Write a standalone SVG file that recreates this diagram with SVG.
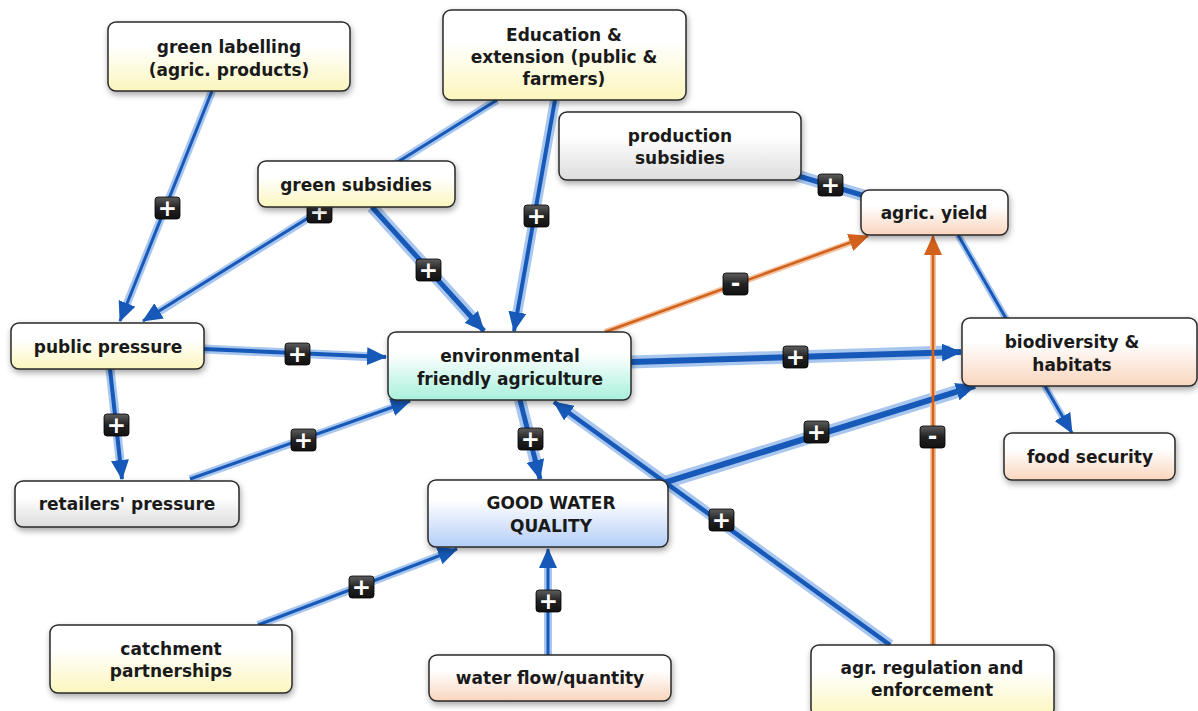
<svg xmlns="http://www.w3.org/2000/svg" width="1198" height="711" viewBox="0 0 1198 711">
<defs>
<linearGradient id="gY" x1="0" y1="0" x2="0" y2="1"><stop offset="0.35" stop-color="#ffffff"/><stop offset="1" stop-color="#fbf6bd"/></linearGradient>
<linearGradient id="gP" x1="0" y1="0" x2="0" y2="1"><stop offset="0.35" stop-color="#ffffff"/><stop offset="1" stop-color="#f9d5bd"/></linearGradient>
<linearGradient id="gG" x1="0" y1="0" x2="0" y2="1"><stop offset="0.35" stop-color="#ffffff"/><stop offset="1" stop-color="#dcdcdc"/></linearGradient>
<linearGradient id="gM" x1="0" y1="0" x2="0" y2="1"><stop offset="0.3" stop-color="#ffffff"/><stop offset="1" stop-color="#a9f0dc"/></linearGradient>
<linearGradient id="gB" x1="0" y1="0" x2="0" y2="1"><stop offset="0.3" stop-color="#ffffff"/><stop offset="1" stop-color="#b3cdf7"/></linearGradient>
<linearGradient id="gK" x1="0" y1="0" x2="0" y2="1"><stop offset="0" stop-color="#5e5e5e"/><stop offset="0.5" stop-color="#222"/><stop offset="1" stop-color="#111"/></linearGradient>
<filter id="sh" x="-10%" y="-20%" width="130%" height="160%"><feDropShadow dx="1" dy="3" stdDeviation="3" flood-color="#000" flood-opacity="0.35"/></filter>
<marker id="ab" markerUnits="userSpaceOnUse" markerWidth="20" markerHeight="18" viewBox="0 0 20 18" refX="19" refY="9" orient="auto"><path d="M0,0 L20,9 L0,18 Z" fill="#1659b8"/></marker>
<marker id="ao" markerUnits="userSpaceOnUse" markerWidth="20" markerHeight="18" viewBox="0 0 20 18" refX="19" refY="9" orient="auto"><path d="M0,0 L20,9 L0,18 Z" fill="#d2611c"/></marker>
</defs>
<style>
.n rect{stroke:#2a2a2a;stroke-width:1.5;filter:url(#sh)}
.n text{font-family:"DejaVu Sans",Verdana,sans-serif;font-weight:bold;font-size:17px;fill:#1a1a1a;text-anchor:middle}
.h{stroke:#92b8ea;fill:none;stroke-linecap:butt;opacity:0.8}
.b{stroke:#1659b8;fill:none;marker-end:url(#ab)}
.ho{stroke:#f2c3a0;fill:none;stroke-width:6}
.o{stroke:#d2611c;fill:none;stroke-width:2.5;marker-end:url(#ao)}
.bd rect{fill:url(#gK);stroke:#000;stroke-width:0.8}
.bd text{font-family:"DejaVu Sans",sans-serif;font-weight:bold;font-size:23px;fill:#fff;text-anchor:middle}
</style>
<g id="connectors">
<!-- halos -->
<line class="h" x1="212" y1="91" x2="124" y2="311" stroke-width="8"/>
<line class="h" x1="497" y1="100" x2="152" y2="316" stroke-width="8"/>
<line class="h" x1="372" y1="207" x2="477" y2="323" stroke-width="12"/>
<line class="h" x1="555" y1="100" x2="516" y2="320" stroke-width="10"/>
<line class="h" x1="785" y1="172" x2="872" y2="198" stroke-width="12"/>
<line class="h" x1="204" y1="349" x2="376" y2="357" stroke-width="9"/>
<line class="h" x1="110" y1="369" x2="121" y2="469" stroke-width="9"/>
<line class="h" x1="190" y1="479" x2="400" y2="405" stroke-width="8"/>
<line class="h" x1="631" y1="362" x2="950" y2="352" stroke-width="13"/>
<line class="h" x1="958" y1="235" x2="1066" y2="423" stroke-width="7"/>
<line class="h" x1="520" y1="400" x2="537" y2="468" stroke-width="12"/>
<line class="h" x1="660" y1="484" x2="965" y2="389" stroke-width="13"/>
<line class="h" x1="890" y1="645" x2="563" y2="408" stroke-width="11"/>
<line class="h" x1="258" y1="625" x2="447" y2="553" stroke-width="8"/>
<line class="h" x1="548" y1="655" x2="548" y2="560" stroke-width="8"/>
<line class="ho" x1="605" y1="332" x2="858" y2="240"/>
<line class="ho" x1="933" y1="645" x2="933" y2="246"/>
<!-- lines -->
<line class="b" x1="212" y1="91" x2="120" y2="321" stroke-width="3"/>
<line class="b" x1="497" y1="100" x2="143" y2="321" stroke-width="3"/>
<line class="b" x1="372" y1="207" x2="484" y2="331" stroke-width="5"/>
<line class="b" x1="555" y1="100" x2="514" y2="331" stroke-width="4"/>
<line class="b" x1="785" y1="172" x2="895" y2="205" stroke-width="5"/>
<line class="b" x1="204" y1="349" x2="386" y2="357" stroke-width="4"/>
<line class="b" x1="110" y1="369" x2="122" y2="479" stroke-width="4"/>
<line class="b" x1="190" y1="479" x2="410" y2="401" stroke-width="3"/>
<line class="b" x1="631" y1="362" x2="961" y2="352" stroke-width="6"/>
<line class="b" x1="958" y1="235" x2="1072" y2="433" stroke-width="3"/>
<line class="b" x1="520" y1="400" x2="540" y2="479" stroke-width="5"/>
<line class="b" x1="660" y1="484" x2="975" y2="386" stroke-width="6"/>
<line class="b" x1="890" y1="645" x2="554" y2="402" stroke-width="4.5"/>
<line class="b" x1="258" y1="625" x2="457" y2="549" stroke-width="3"/>
<line class="b" x1="548" y1="655" x2="548" y2="549" stroke-width="3"/>
<line class="o" x1="605" y1="332" x2="868" y2="236"/>
<line class="o" x1="933" y1="645" x2="933" y2="236"/>
<!-- badges -->
<g class="bd">
<rect x="155" y="197" width="25" height="22" rx="3"/><text x="167.5" y="216">+</text>
<rect x="307" y="201" width="25" height="22" rx="3"/><text x="319.5" y="220">+</text>
<rect x="416" y="259" width="25" height="22" rx="3"/><text x="428.5" y="278">+</text>
<rect x="524" y="205" width="25" height="22" rx="3"/><text x="536.5" y="224">+</text>
<rect x="818" y="174" width="25" height="22" rx="3"/><text x="830.5" y="193">+</text>
<rect x="723" y="273" width="25" height="22" rx="3"/><text x="735.5" y="291">-</text>
<rect x="285" y="343" width="25" height="22" rx="3"/><text x="297.5" y="362">+</text>
<rect x="104" y="414" width="25" height="22" rx="3"/><text x="116.5" y="433">+</text>
<rect x="291" y="429" width="25" height="22" rx="3"/><text x="303.5" y="448">+</text>
<rect x="783" y="346" width="25" height="22" rx="3"/><text x="795.5" y="365">+</text>
<rect x="518" y="428" width="25" height="22" rx="3"/><text x="530.5" y="447">+</text>
<rect x="804" y="421" width="25" height="22" rx="3"/><text x="816.5" y="440">+</text>
<rect x="709" y="509" width="25" height="22" rx="3"/><text x="721.5" y="528">+</text>
<rect x="920" y="426" width="25" height="22" rx="3"/><text x="932.5" y="444">-</text>
<rect x="349" y="576" width="25" height="22" rx="3"/><text x="361.5" y="595">+</text>
<rect x="536" y="590" width="25" height="22" rx="3"/><text x="548.5" y="609">+</text>
</g>
</g>
<g id="n-green-labelling" class="n"><rect x="108" y="22" width="242" height="69" rx="8" fill="url(#gY)"/><text x="229" y="53">green labelling</text><text x="229" y="76">(agric. products)</text></g>
<g id="n-education" class="n"><rect x="443" y="10" width="243" height="90" rx="8" fill="url(#gY)"/><text x="564" y="41">Education &amp;</text><text x="564" y="63">extension (public &amp;</text><text x="564" y="85">farmers)</text></g>
<g id="n-production-subsidies" class="n"><rect x="559" y="112" width="242" height="68" rx="8" fill="url(#gG)"/><text x="680" y="142">production</text><text x="680" y="164">subsidies</text></g>
<g id="n-green-subsidies" class="n"><rect x="258" y="161" width="197" height="46" rx="8" fill="url(#gY)"/><text x="356" y="191">green subsidies</text></g>
<g id="n-agric-yield" class="n"><rect x="861" y="190" width="147" height="45" rx="8" fill="url(#gP)"/><text x="934" y="219">agric. yield</text></g>
<g id="n-public-pressure" class="n"><rect x="11" y="323" width="193" height="46" rx="8" fill="url(#gY)"/><text x="108" y="353">public pressure</text></g>
<g id="n-env-agriculture" class="n"><rect x="388" y="332" width="243" height="68" rx="8" fill="url(#gM)"/><text x="510" y="362">environmental</text><text x="510" y="385">friendly agriculture</text></g>
<g id="n-biodiversity" class="n"><rect x="962" y="318" width="235" height="68" rx="8" fill="url(#gP)"/><text x="1072" y="348">biodiversity &amp;</text><text x="1072" y="371">habitats</text></g>
<g id="n-food-security" class="n"><rect x="1004" y="433" width="171" height="47" rx="8" fill="url(#gP)"/><text x="1090" y="463">food security</text></g>
<g id="n-retailers-pressure" class="n"><rect x="15" y="481" width="224" height="46" rx="8" fill="url(#gG)"/><text x="127" y="510">retailers' pressure</text></g>
<g id="n-water-quality" class="n"><rect x="428" y="480" width="240" height="67" rx="8" fill="url(#gB)"/><text x="551" y="509">GOOD WATER</text><text x="551" y="532">QUALITY</text></g>
<g id="n-catchment" class="n"><rect x="50" y="625" width="242" height="68" rx="8" fill="url(#gY)"/><text x="171" y="655">catchment</text><text x="171" y="677">partnerships</text></g>
<g id="n-water-flow" class="n"><rect x="429" y="655" width="242" height="46" rx="8" fill="url(#gP)"/><text x="550" y="684">water flow/quantity</text></g>
<g id="n-regulation" class="n"><rect x="811" y="645" width="243" height="72" rx="8" fill="url(#gY)"/><text x="932" y="674">agr. regulation and</text><text x="932" y="696">enforcement</text></g>
</svg>
